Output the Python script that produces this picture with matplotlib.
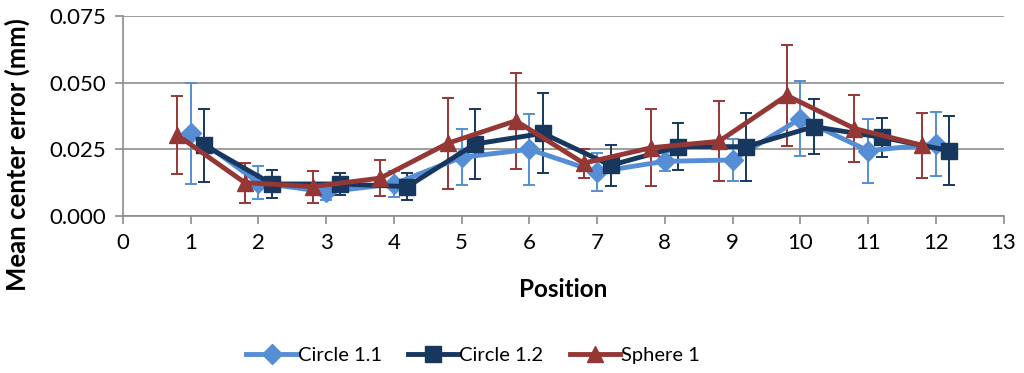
import numpy as np
import matplotlib.pyplot as plt
from matplotlib.lines import Line2D

plt.rcParams['font.family'] = ['Lato', 'DejaVu Sans']

positions = np.arange(1, 13)

circle11 = [0.031, 0.0125, 0.009, 0.012, 0.022, 0.025, 0.0165, 0.0205, 0.021, 0.0365, 0.0245, 0.027]
circle11_err = [0.019, 0.0063, 0.003, 0.005, 0.0105, 0.0134, 0.007, 0.0035, 0.008, 0.014, 0.012, 0.012]

circle12 = [0.0266, 0.012, 0.012, 0.011, 0.027, 0.031, 0.019, 0.026, 0.026, 0.0335, 0.0295, 0.0245]
circle12_err = [0.0137, 0.0053, 0.0041, 0.005, 0.0133, 0.015, 0.0078, 0.0088, 0.0128, 0.0103, 0.0072, 0.013]

sphere1 = [0.0304, 0.0125, 0.011, 0.0142, 0.0273, 0.0357, 0.0198, 0.0256, 0.028, 0.0452, 0.0328, 0.0265]
sphere1_err = [0.0145, 0.0075, 0.006, 0.0068, 0.017, 0.018, 0.0055, 0.0145, 0.015, 0.019, 0.0125, 0.0123]

series = [
    ('Circle 1.1', circle11, circle11_err, 0.0, '#558ED5', 'D', 10),
    ('Circle 1.2', circle12, circle12_err, 0.2, '#17375E', 's', 11),
    ('Sphere 1', sphere1, sphere1_err, -0.2, '#953735', '^', 12),
]

fig = plt.figure(figsize=(10.24, 3.73), dpi=100)
ax = fig.add_axes([0.120, 0.421, 0.860, 0.536])

handles = []
for name, vals, errs, shift, color, marker, ms in series:
    ax.errorbar(positions + shift, vals, yerr=errs, color=color, marker=marker,
                markersize=ms, linewidth=3.5, elinewidth=1.4, capsize=4.5,
                capthick=1.4)
    handles.append(Line2D([], [], color=color, marker=marker, markersize=ms,
                          linewidth=3.5, label=name))

ax.set_xlim(0, 13)
ax.set_ylim(0, 0.075)
ax.set_xticks(range(0, 14))
ax.set_yticks([0, 0.025, 0.05, 0.075])
ax.set_yticklabels(['0.000', '0.025', '0.050', '0.075'])
ax.yaxis.grid(True, color='#8c8c8c', linewidth=1.2)
ax.set_axisbelow(True)

for side in ['top', 'right']:
    ax.spines[side].set_visible(False)
for side in ['left', 'bottom']:
    ax.spines[side].set_color('#8c8c8c')
    ax.spines[side].set_linewidth(1.2)
ax.tick_params(axis='both', color='#8c8c8c', width=1.2, length=6,
               labelsize=16, pad=6)

ax.set_xlabel('Position', fontsize=17.5, fontweight='bold', labelpad=18)
ax.set_ylabel('Mean center error (mm)', fontsize=18.5, fontweight='bold')
ax.yaxis.set_label_coords(-0.106, 0.305)

fig.legend(handles=handles, loc='center', bbox_to_anchor=(0.462, 0.048), ncol=3,
           frameon=False, fontsize=14.5, handlelength=2.5, columnspacing=1.3,
           handletextpad=0.05)

plt.savefig('out.png', dpi=100)
